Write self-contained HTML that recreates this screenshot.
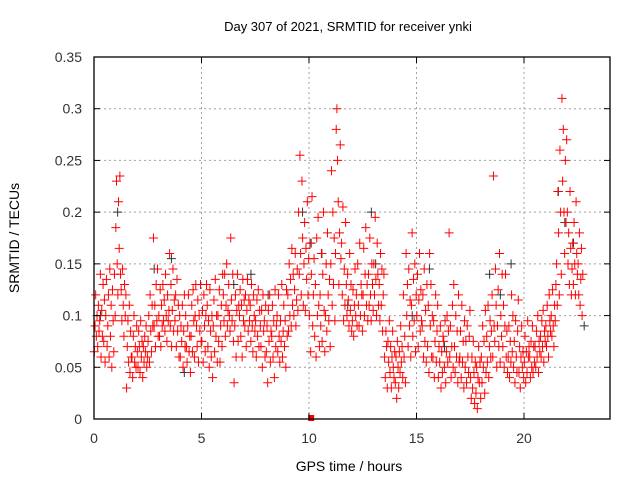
<!DOCTYPE html>
<html><head><meta charset="utf-8"><style>
body{margin:0;background:#fff;}
svg{display:block;font-family:"Liberation Sans",sans-serif;}
</style></head><body>
<svg id="chart" width="640" height="480" viewBox="0 0 640 480">
<text x="348" y="31" font-size="13" text-anchor="middle">Day 307 of 2021, SRMTID for receiver ynki</text>
<text x="349" y="471" font-size="14" text-anchor="middle">GPS time / hours</text>
<text x="19" y="238" font-size="14" text-anchor="middle" transform="rotate(-90 19 238)">SRMTID / TECUs</text>
<g id="grid"></g><g id="black"></g><g id="red"></g><g id="axes"></g>
</svg>
<script>
const xTicks=[0,5,10,15,20];
const yTicks=[0,0.05,0.1,0.15,0.2,0.25,0.3,0.35];
const yTickLabels=["0","0.05","0.1","0.15","0.2","0.25","0.3","0.35"];
const binWidth=0.25;
const redBins=[
[65,90,120,80,100,70,110,85],[95,140,60,105,80,130,75,115],[55,100,135,70,90,120,60,145],[80,110,50,125,95,65,140,100],
[185,230,150,120,210,165,235,140],[125,95,145,110,80,130,100,120],[30,70,95,55,110,45,85,60],[60,40,80,100,55,70,50,90],
[65,50,85,70,45,95,60,75],[40,70,55,80,65,90,50,60],[75,100,55,120,85,65,110,90],[175,90,110,70,130,95,145,80],
[100,80,125,70,110,90,130,95],[115,85,140,100,75,120,95,105],[160,90,130,70,105,145,85,115],[95,120,70,135,85,110,60,100],
[60,90,75,110,50,85,120,70],[100,70,55,90,120,65,80,45],[80,110,65,125,95,60,100,130],[90,70,115,55,100,85,130,75],
[75,105,55,120,90,65,100,130],[110,70,95,50,125,85,60,100],[40,90,115,65,135,80,100,55],[100,75,125,55,90,110,70,140],
[120,95,140,80,110,150,90,105],[130,100,85,175,115,95,140,75],[35,90,120,60,105,140,75,110],[100,125,80,110,60,135,95,115],
[90,120,70,105,135,85,115,95],[110,75,130,90,65,120,100,85],[95,60,115,80,125,70,105,90],[70,105,50,120,85,95,60,110],
[65,90,35,105,75,120,55,85],[80,110,60,95,40,125,70,90],[100,65,120,80,55,95,75,130],[60,85,110,70,95,50,125,80],
[120,85,150,100,135,90,165,110],[140,100,125,160,90,115,145,105],[200,140,255,160,120,230,175,110],[150,190,105,165,135,210,120,155],
[100,170,65,140,215,90,120,155],[80,130,60,175,100,195,110,70],[120,90,160,75,140,200,105,65],[100,150,85,180,120,95,135,70],
[150,240,110,200,130,175,95,160],[280,300,250,210,130,180,265,155],[170,120,205,95,145,110,190,130],[100,140,115,90,160,105,130,85],
[95,125,80,110,145,100,120,90],[150,110,90,170,100,130,120,85],[120,165,100,140,185,110,130,95],[140,110,175,120,95,150,130,105],
[150,120,195,135,100,170,140,110],[130,95,160,110,145,85,120,140],[60,40,85,70,30,75,55,95],[45,70,30,60,85,50,40,65],
[35,60,20,75,50,30,65,45],[90,55,70,40,120,60,80,35],[160,100,130,70,145,90,115,60],[110,180,80,135,95,150,65,120],
[100,140,70,115,160,85,125,95],[90,120,60,145,75,105,55,130],[70,110,45,160,90,130,60,100],[60,95,40,75,120,55,85,110],
[40,70,55,90,30,65,45,80],[75,50,95,35,65,100,55,85],[180,60,90,40,70,110,50,130],[70,45,100,60,85,35,120,55],
[60,85,40,110,55,75,30,95],[50,75,35,90,60,45,80,105],[40,20,60,30,75,45,15,55],[25,50,10,40,70,35,55,20],
[60,35,90,50,75,25,105,45],[80,55,110,40,70,95,60,85],[120,60,235,90,75,145,110,50],[90,125,70,160,55,100,80,140],
[70,110,50,90,140,60,85,45],[60,90,40,75,55,120,65,100],[50,75,35,95,60,45,85,115],[45,70,30,60,90,50,65,40],
[55,80,35,65,45,95,60,70],[60,40,75,50,90,45,70,55],[70,50,85,60,100,45,75,65],[80,60,95,70,105,55,85,75],
[90,70,110,80,60,120,95,85],[100,80,125,90,70,110,95,130],[150,110,220,180,120,260,200,140],[310,230,280,200,160,250,190,270],
[200,150,180,130,220,165,120,145],[170,130,190,150,120,210,160,140],[150,120,180,110,135,165,100,140]
];
const blackTimes=[0.3,1.1,2.8,3.6,4.2,6.5,7.3,8.1,9.7,10.1,10.6,11.8,12.9,13.1,14.8,15.6,16.3,18.4,18.9,19.4,21.6,21.9,22.3,22.8];
const blackValues=[0.10,0.20,0.145,0.155,0.045,0.13,0.14,0.12,0.20,0.17,0.16,0.11,0.20,0.15,0.10,0.145,0.07,0.14,0.12,0.15,0.22,0.19,0.17,0.09];
const L=94,R=610,T=57,B=419,XMAX=24,YMAX=0.35;
const X=v=>L+v/XMAX*(R-L), Y=v=>B-v/YMAX*(B-T);
const NS="http://www.w3.org/2000/svg";
function mk(tag,attrs,parent){const e=document.createElementNS(NS,tag);for(const k in attrs)e.setAttribute(k,attrs[k]);parent.appendChild(e);return e;}
const grid=document.getElementById('grid'),axes=document.getElementById('axes');
xTicks.forEach(t=>{
 if(t>0){const g=mk('line',{x1:X(t),x2:X(t),y1:T,y2:B,stroke:'#a0a0a0','stroke-dasharray':'2,3'},grid);
 
 }
 mk('line',{x1:X(t),x2:X(t),y1:B,y2:B-6,stroke:'#000'},axes);
 mk('line',{x1:X(t),x2:X(t),y1:T,y2:T+6,stroke:'#000'},axes);
 const tx=mk('text',{x:X(t),y:B+24,'font-size':14,'text-anchor':'middle',fill:'#333'},axes);tx.textContent=t;
 
 
});
yTicks.forEach((t,i)=>{
 if(t>0&&t<YMAX){const g=mk('line',{x1:L,x2:R,y1:Y(t),y2:Y(t),stroke:'#a0a0a0','stroke-dasharray':'2,3'},grid);
 
 }
 mk('line',{x1:L,x2:L+6,y1:Y(t),y2:Y(t),stroke:'#000'},axes);
 mk('line',{x1:R,x2:R-6,y1:Y(t),y2:Y(t),stroke:'#000'},axes);
 const tx=mk('text',{x:L-12,y:Y(t)+5,'font-size':14,'text-anchor':'end',fill:'#333'},axes);tx.textContent=yTickLabels[i];
 
 
});
const frame=mk('rect',{x:L,y:T,width:R-L,height:B-T,fill:'none',stroke:'#000','stroke-width':1.3},axes);


function plus(x,y,c,parent){return mk('path',{d:`M${x-4.5},${y}h9M${x},${y-4.5}v9`,stroke:c,'stroke-width':1,fill:'none'},parent);}
const bl=document.getElementById('black');
blackTimes.forEach((t,i)=>{const p=plus(X(t),Y(blackValues[i]),'#333',bl);
 
 });
const rd=document.getElementById('red');
redBins.forEach((vals,b)=>{vals.forEach((v,i)=>{
 const t=b*binWidth+(i+0.5)*binWidth/vals.length;
 const p=plus(X(t),Y(v/1000),'#ff0000',rd);
 
 
});});
const m=mk('rect',{x:X(10.1)-3,y:Y(0)-4,width:6,height:6,fill:'#ff0000'},rd);


</script>
</body></html>
